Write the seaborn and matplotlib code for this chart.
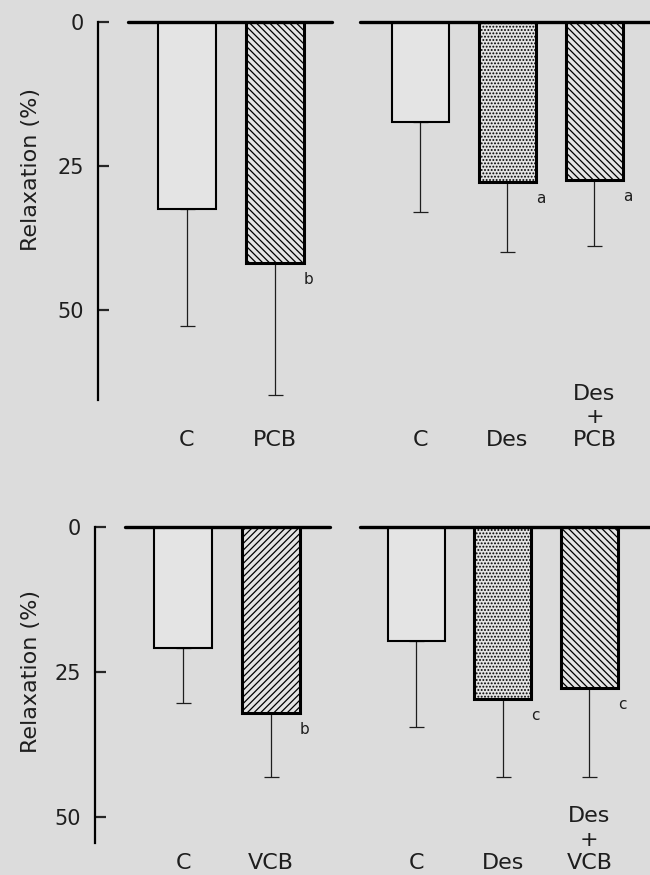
import matplotlib.pyplot as plt
import seaborn as sns

sns.set_theme(style="white")
plt.rcParams['font.family'] = ['DejaVu Sans']
plt.rcParams['hatch.linewidth'] = 0.9

# relaxation (%): mean and upper error bar length
pcb_ctrl_groups = ["C", "PCB"]
pcb_ctrl_mean = [32.5, 41.8]
pcb_ctrl_sd = [20.3, 23.0]
pcb_ctrl_sig = ["", "b"]

pcb_des_groups = ["C", "Des", "Des\n+\nPCB"]
pcb_des_mean = [17.4, 27.8, 27.4]
pcb_des_sd = [15.6, 12.2, 11.5]
pcb_des_sig = ["", "a", "a"]

vcb_ctrl_groups = ["C", "VCB"]
vcb_ctrl_mean = [20.9, 32.1]
vcb_ctrl_sd = [9.4, 11.0]
vcb_ctrl_sig = ["", "b"]

vcb_des_groups = ["C", "Des", "Des\n+\nVCB"]
vcb_des_mean = [19.7, 29.7, 27.8]
vcb_des_sd = [14.8, 13.4, 15.3]
vcb_des_sig = ["", "c", "c"]

y_ticks = [0, 25, 50]

BG = "#dcdcdc"
BAR_FACE = "#e4e4e4"
INK = "#1e1e1e"

BACK = "\\" * 5
FWD = "/" * 5
DOTS = "." * 5


def draw_panel(ax, groups, mean, sd, sig, hatches, xlim, ymax, label_pad, base_start=0.0):
    sns.barplot(x=groups, y=mean, ax=ax, color=BAR_FACE, saturation=1,
                edgecolor="black", width=0.66)
    bars = ax.containers[0]
    for bar, h in zip(bars, hatches):
        bar.set_hatch(h)
        bar.set_linewidth(2.2 if h else 1.5)
        bar.set_zorder(2)
    ax.errorbar(range(len(groups)), mean, yerr=[[0] * len(sd), sd], fmt="none",
                ecolor=INK, elinewidth=0.9, capsize=5.4, capthick=0.9, zorder=1)
    for bar, s in zip(bars, sig):
        if s:
            ax.annotate(s, xy=(bar.get_x() + bar.get_width(), bar.get_y() + bar.get_height()),
                        xytext=(0, -15), textcoords="offset points",
                        ha="left", va="baseline", fontsize=11, color=INK)
    ax.axhline(0, xmin=base_start, xmax=1, color="black", lw=2.4, clip_on=False, zorder=3)
    ax.set_xlim(*xlim)
    ax.set_ylim(ymax, 0)
    ax.set_facecolor("none")
    ax.set_xticks(range(len(groups)), groups)
    for lbl in ax.get_xticklabels():
        lbl.set_verticalalignment("bottom")
        lbl.set_multialignment("center")
    ax.tick_params(axis="x", length=0, pad=label_pad, labelsize=16, labelcolor=INK)
    for side in ["top", "right", "bottom", "left"]:
        ax.spines[side].set_visible(False)
    ax.set_xlabel("")
    ax.set_ylabel("")


def style_yaxis(ax, label_y, label_x):
    ax.spines["left"].set_visible(True)
    ax.spines["left"].set_linewidth(1.6)
    ax.spines["left"].set_color("black")
    ax.set_yticks(y_ticks)
    ax.tick_params(axis="y", direction="in", length=8, width=1.6, pad=10,
                   labelsize=15, labelcolor=INK, left=True)
    ax.set_ylabel("Relaxation (%)", fontsize=16, color=INK)
    ax.yaxis.set_label_coords(label_x, label_y)


def hide_yaxis(ax):
    ax.set_yticks([])


fig = plt.figure(figsize=(6.5, 8.75), dpi=100, facecolor=BG)

ax_tl = fig.add_axes([0.1508, 0.5429, 0.36, 0.432])
ax_tr = fig.add_axes([0.5538, 0.5429, 0.4462, 0.432])
ax_bl = fig.add_axes([0.1462, 0.0366, 0.3615, 0.3611])
ax_br = fig.add_axes([0.5538, 0.0366, 0.4462, 0.3611])

draw_panel(ax_tl, pcb_ctrl_groups, pcb_ctrl_mean, pcb_ctrl_sd, pcb_ctrl_sig,
           ["", BACK], (-1.006, 1.653), 65.6, 36, base_start=0.128)
draw_panel(ax_tr, pcb_des_groups, pcb_des_mean, pcb_des_sd, pcb_des_sig,
           ["", DOTS, BACK], (-0.695, 2.638), 65.6, 36)
draw_panel(ax_bl, vcb_ctrl_groups, vcb_ctrl_mean, vcb_ctrl_sd, vcb_ctrl_sig,
           ["", FWD], (-1.0, 1.67), 54.5, 21.5, base_start=0.128)
draw_panel(ax_br, vcb_des_groups, vcb_des_mean, vcb_des_sd, vcb_des_sig,
           ["", DOTS, BACK], (-0.65, 2.70), 54.5, 21.5)

style_yaxis(ax_tl, 0.611, -0.244)
style_yaxis(ax_bl, 0.544, -0.23)
hide_yaxis(ax_tr)
hide_yaxis(ax_br)

fig.savefig("out.png", dpi=100, facecolor=fig.get_facecolor())
